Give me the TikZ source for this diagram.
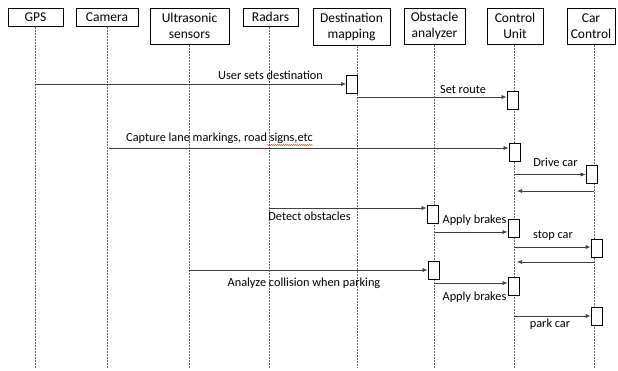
\documentclass[tikz,border=0pt]{standalone}
\usepackage{fontspec}
\setmainfont{Carlito}
\usetikzlibrary{arrows.meta,decorations.pathmorphing}

\begin{document}
\begin{tikzpicture}[x=1pt, y=-1pt,
  head/.style={draw, line width=1pt, align=center, inner sep=0pt, font=\fontsize{13.5}{16}\selectfont},
  act/.style={draw, line width=.8pt, fill=white, minimum width=11pt, minimum height=18pt, inner sep=0pt},
  life/.style={densely dotted, line width=.5pt, black!60},
  msg/.style={-{Latex[length=5pt,width=4pt]}, line width=.6pt, black!75},
  lbl/.style={inner sep=0pt, font=\fontsize{12.3}{14}\selectfont}]

  \useasboundingbox (0,0) rectangle (618,370);

  % participants
  \node[head, minimum width=55pt, minimum height=18pt] (gps) at (35.5,17) {GPS};
  \node[head, minimum width=62pt, minimum height=18pt] (cam) at (107,17) {Camera};
  \node[head, minimum width=79pt, minimum height=36pt] (uss) at (189.5,26) {Ultrasonic\\sensors};
  \node[head, minimum width=55pt, minimum height=18pt] (rad) at (270.5,17) {Radars};
  \node[head, minimum width=77pt, minimum height=37pt] (dst) at (351.5,26.5) {Destination\\mapping};
  \node[head, minimum width=61pt, minimum height=36pt] (obs) at (434.5,26) {Obstacle\\analyzer};
  \node[head, minimum width=56pt, minimum height=36pt] (ctl) at (515,26) {Control\\Unit};
  \node[head, minimum width=48pt, minimum height=36pt] (car) at (591,26) {Car\\Control};

  % lifelines
  \coordinate (gpsL) at (35,368);
  \coordinate (camL) at (107,368);
  \coordinate (ussL) at (189,368);
  \coordinate (radL) at (269,368);
  \coordinate (dstL) at (357,368);
  \coordinate (obsL) at (434,368);
  \coordinate (ctlL) at (514,368);
  \coordinate (carL) at (594,368);
  \draw[life] (gpsL |- gps.south) -- (gpsL);
  \draw[life] (camL |- cam.south) -- (camL);
  \draw[life] (ussL |- uss.south) -- (ussL);
  \draw[life] (radL |- rad.south) -- (radL);
  \draw[life] (dstL |- dst.south) -- (dstL);
  \draw[life] (obsL |- obs.south) -- (obsL);
  \draw[life] (ctlL |- ctl.south) -- (ctlL);
  \draw[life] (carL |- car.south) -- (carL);

  % activation boxes
  \node[act] (dst1) at (352,84) {};
  \node[act] (ctl1) at (512.5,100) {};
  \node[act] (ctl2) at (514.5,152) {};
  \node[act] (car1) at (591.5,174.5) {};
  \node[act] (obs1) at (432.5,214.5) {};
  \node[act] (ctl3) at (513.5,228) {};
  \node[act] (car2) at (596.5,248) {};
  \node[act] (obs2) at (433.5,270) {};
  \node[act] (ctl4) at (513.5,286) {};
  \node[act] (car3) at (596.5,316) {};

  % messages
  \coordinate (m2) at ([yshift=3pt]ctl1.west);
  \coordinate (m3) at ([yshift=4pt]ctl2.west);
  \coordinate (m6) at ([yshift=6.5pt]obs1.west);
  \coordinate (m7) at ([yshift=-4pt]ctl3.west);
  \coordinate (m8) at ([yshift=1pt]car2.west);
  \coordinate (m11) at ([yshift=3pt]ctl4.west);
  \coordinate (r1) at (0,191);
  \coordinate (r2) at (0,262);

  \draw[msg] (gpsL |- dst1.west) -- (dst1.west);
  \draw[msg] (dstL |- m2) -- (m2);
  \draw[msg] ([xshift=2pt]camL |- m3) -- (m3);
  \draw[msg] (ctlL |- car1.west) -- (car1.west);
  \draw[msg, shorten >=3pt] (carL |- r1) -- (ctlL |- r1);
  \draw[msg] (radL |- m6) -- (m6);
  \draw[msg] (obsL |- m7) -- (m7);
  \draw[msg] (ctlL |- m8) -- (m8);
  \draw[msg, shorten >=3pt] (carL |- r2) -- (ctlL |- r2);
  \draw[msg] (ussL |- obs2.west) -- (obs2.west);
  \draw[msg] (obsL |- m11) -- (m11);
  \draw[msg] (ctlL |- car3.west) -- (car3.west);

  % message labels
  \node[lbl] (l1) at (270.5,75) {User sets destination};
  \node[lbl] (l2) at (463,90) {Set route};
  \node[lbl] (l3) at (219.5,138) {Capture lane markings, road signs,etc};
  \node[lbl] (l4) at (555.5,162) {Drive car};
  \node[lbl] (l6) at (309.5,216) {Detect obstacles};
  \node[lbl] (l7) at (474.5,220) {Apply brakes};
  \node[lbl] (l8) at (553,236) {stop car};
  \node[lbl] (l10) at (304,283) {Analyze collision when parking};
  \node[lbl] (l11) at (474.5,297) {Apply brakes};
  \node[lbl] (l12) at (550,324) {park car};

  % spell-check squiggle
  \draw[red, line width=.4pt, decorate, decoration={snake, amplitude=.5pt, segment length=2pt}]
    ([xshift=-46pt,yshift=-1.5pt]l3.south east) -- ([yshift=-1.5pt]l3.south east);
\end{tikzpicture}
\end{document}
